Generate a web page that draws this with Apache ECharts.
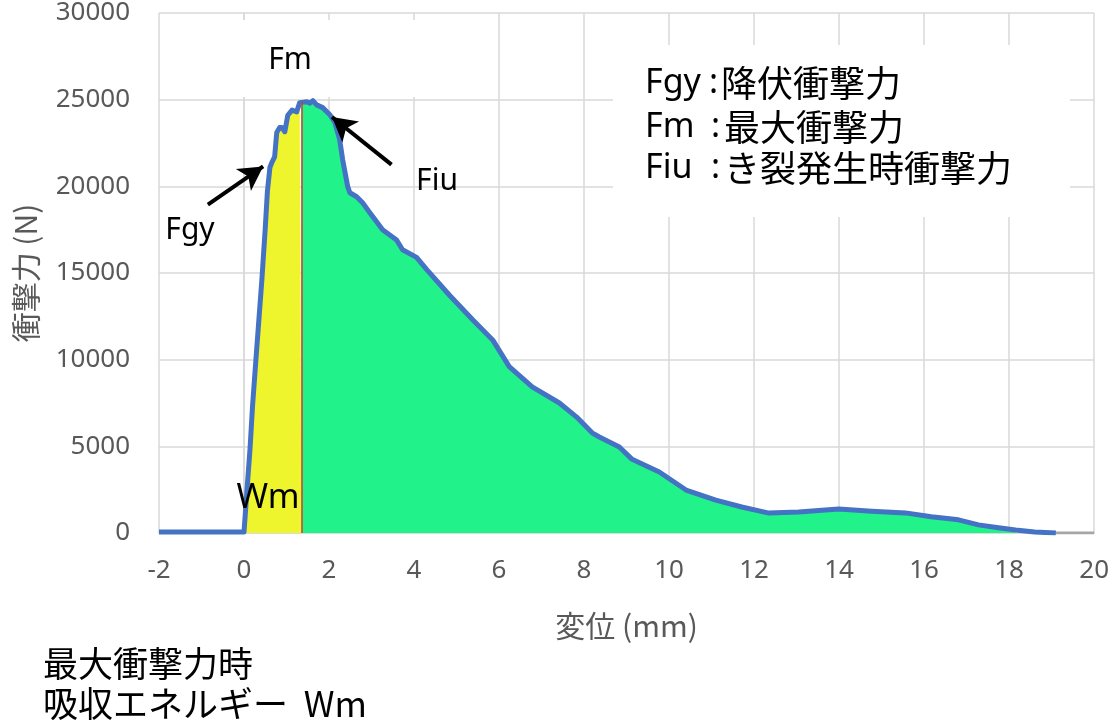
<!DOCTYPE html>
<html>
<head>
<meta charset="utf-8">
<style>
  html, body { margin: 0; padding: 0; background: #fff; }
  #main { width: 1112px; height: 720px; }
</style>
<script src="https://cdn.jsdelivr.net/npm/echarts@6/dist/echarts.min.js"></script>
</head>
<body>
<div id="main"></div>
<script>
// 荷重-変位曲線 (読み取り値)
const disp = [-2.0, 0.0, 0.03, 0.07, 0.14, 0.2, 0.28, 0.35, 0.42, 0.5, 0.55, 0.61, 0.66, 0.72, 0.77, 0.84, 0.89, 0.96,
  1.03, 1.13, 1.24, 1.31, 1.35, 1.48, 1.55, 1.62, 1.71, 1.85, 2.02, 2.14, 2.25, 2.32, 2.44, 2.49, 2.65, 2.79, 2.96,
  3.12, 3.26, 3.59, 3.73, 4.06, 4.30, 4.84, 5.38, 5.85, 6.24, 6.78, 7.42, 7.82, 8.19, 8.36, 8.83, 9.13, 9.77,
  10.40, 11.10, 11.71, 12.35, 13.05, 13.99, 14.77, 15.56, 16.17, 16.81, 17.28, 17.75, 18.15, 18.6, 19.1];
const force = [60, 60, 100, 2480, 4800, 7300, 10000, 12300, 14600, 17600, 19700, 21100, 21400, 21700, 23100, 23400, 23400, 23150,
  24100, 24400, 24300, 24830, 24880, 24880, 24800, 24940, 24700, 24540, 24130, 23670, 22700, 21550, 19980, 19630, 19400, 19050, 18480,
  17960, 17500, 16900, 16340, 15900, 15190, 13700, 12300, 11140, 9600, 8430, 7500, 6700, 5780, 5540, 4960, 4250, 3520,
  2480, 1900, 1500, 1150, 1210, 1380, 1250, 1160, 940, 760, 470, 300, 170, 60, 0];
// 末尾の灰色部分
const tailDisp = [19.1, 20.0];
const tailForce = [0, 0];

const xTicks = { min: -2, max: 20, interval: 2 };
const yTicks = { min: 0, max: 30000, interval: 5000 };

const dispFm = 1.35;    // 最大衝撃力時の変位
const dispEnd = 18.15;  // 緑の塗りの終わり

// 注記の矢印 (データ座標)
const arrowFgy = [[-0.85, 18950], [0.45, 21150]];
const arrowFiu = [[3.47, 21250], [2.07, 24000]];

const curve = disp.map((d, i) => [d, force[i]]);
const yellowPart = curve.filter(p => p[0] >= 0 && p[0] <= dispFm);
const greenPart = curve.filter(p => p[0] >= dispFm && p[0] <= dispEnd);
const fmForce = force[disp.indexOf(dispFm)];

var myChart = echarts.init(document.getElementById('main'));

const grey = '#595959';
const latin = '"Noto Sans", "Noto Sans CJK JP", sans-serif';
const cjk = '"Noto Sans CJK JP", "Noto Sans", sans-serif';

const option = {
  animation: false,
  backgroundColor: '#fff',
  grid: { left: 159, right: 16, top: 13, bottom: 187 },
  xAxis: {
    type: 'value',
    min: xTicks.min, max: xTicks.max, interval: xTicks.interval,
    name: '変位 (mm)',
    nameLocation: 'middle',
    nameGap: 78,
    nameTextStyle: { fontSize: 30, color: grey, fontFamily: cjk },
    axisLine: { show: true, lineStyle: { color: '#d9d9d9', width: 1.5 } },
    axisTick: { show: false },
    axisLabel: { fontSize: 26, color: grey, margin: 25, fontFamily: latin },
    splitLine: { show: true, lineStyle: { color: '#d9d9d9', width: 1.5 } }
  },
  yAxis: {
    type: 'value',
    min: yTicks.min, max: yTicks.max, interval: yTicks.interval,
    name: '衝撃力 (N)',
    nameLocation: 'middle',
    nameRotate: 90,
    nameGap: 118,
    nameTextStyle: { fontSize: 30, color: grey, fontFamily: cjk },
    axisLine: { show: true, lineStyle: { color: '#d9d9d9', width: 1.5 } },
    axisTick: { show: false },
    axisLabel: { fontSize: 26, color: grey, margin: 29, fontFamily: latin, formatter: v => String(v) },
    splitLine: { show: true, lineStyle: { color: '#d9d9d9', width: 1.5 } }
  },
  series: [
    {
      name: 'Wm',
      type: 'line',
      data: yellowPart,
      symbol: 'none',
      lineStyle: { width: 0 },
      areaStyle: { color: '#eef52c', opacity: 1 },
      z: 2,
      markLine: {
        silent: true,
        symbol: 'none',
        label: { show: false },
        lineStyle: { color: '#d0402a', width: 1.5, type: 'solid' },
        data: [[{ coord: [dispFm, 0] }, { coord: [dispFm, fmForce] }]]
      }
    },
    {
      name: 'rest',
      type: 'line',
      data: greenPart,
      symbol: 'none',
      lineStyle: { width: 0 },
      areaStyle: { color: '#22f28a', opacity: 1 },
      z: 2
    },
    {
      name: '衝撃力',
      type: 'line',
      data: curve,
      symbol: 'none',
      lineStyle: { color: '#4472c4', width: 5, join: 'round' },
      z: 4,
      markLine: {
        silent: true,
        symbol: ['none', 'arrow'],
        symbolSize: [20, 24],
        label: { show: false },
        lineStyle: { color: '#000', width: 4, type: 'solid' },
        data: [
          [{ coord: arrowFgy[0] }, { coord: arrowFgy[1] }],
          [{ coord: arrowFiu[0] }, { coord: arrowFiu[1] }]
        ]
      }
    },
    {
      name: 'tail',
      type: 'line',
      data: tailDisp.map((d, i) => [d, tailForce[i]]),
      symbol: 'none',
      lineStyle: { color: '#a6a6a6', width: 3 },
      z: 3
    }
  ],
  graphic: [
    { type: 'rect', z: 1, shape: { x: 190, y: 20, width: 230, height: 77 }, style: { fill: '#fff' } },
    { type: 'rect', z: 1, shape: { x: 613, y: 45, width: 457, height: 172 }, style: { fill: '#fff' } },
    { type: 'text', z: 100, x: 290, y: 60, style: { text: 'Fm', font: '30px ' + latin, fill: '#000', textAlign: 'center', textVerticalAlign: 'middle' } },
    { type: 'text', z: 100, x: 190, y: 230, style: { text: 'Fgy', font: '30px ' + latin, fill: '#000', textAlign: 'center', textVerticalAlign: 'middle' } },
    { type: 'text', z: 100, x: 437, y: 181, style: { text: 'Fiu', font: '30px ' + latin, fill: '#000', textAlign: 'center', textVerticalAlign: 'middle' } },
    { type: 'text', z: 100, x: 268, y: 498, style: { text: 'Wm', font: '34px ' + latin, fill: '#000', textAlign: 'center', textVerticalAlign: 'middle' } },
    { type: 'text', z: 100, x: 645, y: 83, style: { text: 'Fgy', font: '34px ' + latin, fill: '#000', textVerticalAlign: 'middle' } },
    { type: 'text', z: 100, x: 709, y: 83, style: { text: ':', font: '34px ' + latin, fill: '#000', textVerticalAlign: 'middle' } },
    { type: 'text', z: 100, x: 721, y: 83, style: { text: '降伏衝撃力', font: '36px ' + cjk, fill: '#000', textVerticalAlign: 'middle' } },
    { type: 'text', z: 100, x: 645, y: 127, style: { text: 'Fm', font: '34px ' + latin, fill: '#000', textVerticalAlign: 'middle' } },
    { type: 'text', z: 100, x: 711, y: 127, style: { text: ':', font: '34px ' + latin, fill: '#000', textVerticalAlign: 'middle' } },
    { type: 'text', z: 100, x: 724, y: 127, style: { text: '最大衝撃力', font: '36px ' + cjk, fill: '#000', textVerticalAlign: 'middle' } },
    { type: 'text', z: 100, x: 645, y: 168, style: { text: 'Fiu', font: '34px ' + latin, fill: '#000', textVerticalAlign: 'middle' } },
    { type: 'text', z: 100, x: 711, y: 168, style: { text: ':', font: '34px ' + latin, fill: '#000', textVerticalAlign: 'middle' } },
    { type: 'text', z: 100, x: 724, y: 168, style: { text: 'き裂発生時衝撃力', font: '36px ' + cjk, fill: '#000', textVerticalAlign: 'middle' } },
    { type: 'text', z: 100, x: 43, y: 664, style: { text: '最大衝撃力時', font: '35px ' + cjk, fill: '#000', textVerticalAlign: 'middle' } },
    { type: 'text', z: 100, x: 43, y: 704, style: { text: '吸収エネルギー  Wm', font: '35px ' + cjk, fill: '#000', textVerticalAlign: 'middle' } }
  ]
};

myChart.setOption(option);
</script>
</body>
</html>
